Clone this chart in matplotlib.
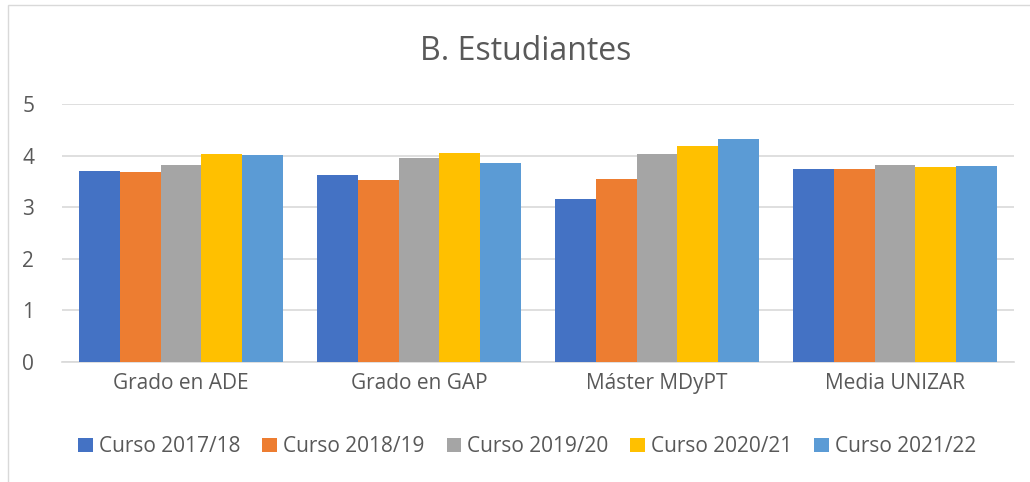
import numpy as np
import matplotlib.pyplot as plt
from matplotlib.patches import Rectangle

categories = ['Grado en ADE', 'Grado en GAP', 'Máster MDyPT', 'Media UNIZAR']
series_names = ['Curso 2017/18', 'Curso 2018/19', 'Curso 2019/20', 'Curso 2020/21', 'Curso 2021/22']
values = [
    [3.70, 3.62, 3.15, 3.74],  # 2017/18
    [3.68, 3.53, 3.55, 3.74],  # 2018/19
    [3.81, 3.96, 4.04, 3.81],  # 2019/20
    [4.03, 4.05, 4.19, 3.78],  # 2020/21
    [4.01, 3.85, 4.32, 3.79],  # 2021/22
]
colors = ['#4472C4', '#ED7D31', '#A5A5A5', '#FFC000', '#5B9BD5']
yticks = [0, 1, 2, 3, 4, 5]

text_color = '#595959'
plt.rcParams['font.family'] = ['Open Sans', 'DejaVu Sans']

fig = plt.figure(figsize=(10.3, 4.82), dpi=100)
ax = fig.add_axes([62 / 1030, 120 / 482, 952 / 1030, 258 / 482])

# outer chart border
fig.patches.append(Rectangle((8 / 1030, -0.05), 1.1, 0.05 + 477 / 482,
                             transform=fig.transFigure, fill=False,
                             edgecolor='#d9d9d9', linewidth=1))

x = np.arange(len(categories))
n = len(series_names)
bar_w = 0.855 / n
for i, (name, vals) in enumerate(zip(series_names, values)):
    offs = (i - (n - 1) / 2) * bar_w
    ax.bar(x + offs, vals, width=bar_w, color=colors[i], label=name, zorder=3)

ax.set_xlim(-0.5, len(categories) - 0.5)
ax.set_ylim(0, 5)
ax.set_yticks(yticks)
ax.set_xticks(x)
ax.set_xticklabels(categories)
ax.yaxis.grid(True, color='#d9d9d9', linewidth=1.2, zorder=0)
ax.set_axisbelow(True)
for side in ['top', 'right', 'left']:
    ax.spines[side].set_visible(False)
ax.spines['bottom'].set_color('#d9d9d9')
ax.spines['bottom'].set_linewidth(1.2)
ax.tick_params(axis='both', length=0, labelsize=15, colors=text_color)
ax.tick_params(axis='y', pad=20)
ax.tick_params(axis='x', pad=8)

fig.text(0.51, 0.893, 'B. Estudiantes', ha='center', va='center',
         fontsize=23, color=text_color)

leg = fig.legend(loc='center', bbox_to_anchor=(0.512, 0.073), ncol=5,
                 frameon=False, fontsize=15, handlelength=0.7, handleheight=0.7,
                 handletextpad=0.3, columnspacing=1.05)
for t in leg.get_texts():
    t.set_color(text_color)

fig.savefig('out.png', dpi=100)
